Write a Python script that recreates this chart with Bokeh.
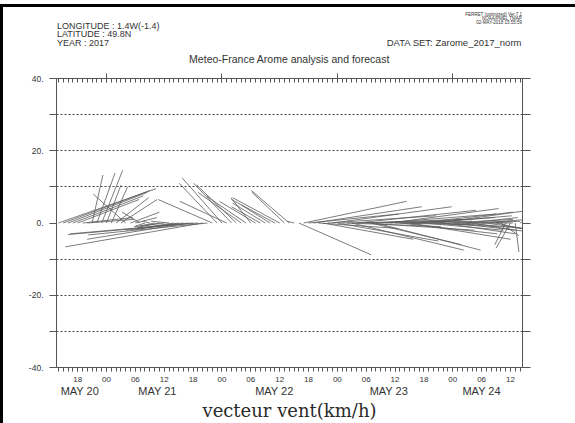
from bokeh.plotting import figure
from bokeh.layouts import column
from bokeh.models import Range1d, FixedTicker, LinearAxis, Grid, ColumnDataSource
from bokeh.core.properties import value
from bokeh.embed import file_html
from bokeh.resources import INLINE

# ---- data: hourly wind sticks (hours since 2017-05-20 00:00), u / v in km/h ----
hours = list(range(14, 111))
u_kmh = [27, 24, 22, 19.5, 17, 14, 13, 3, 5, 5.8, 4, 4.5, 9, 10, -9, 8, 6, -5,
         -3, -2, -4, -6, -8, -5, -10, -12, -16, -28, -34, -36, -38, -33,
         -15, -10.5, -11, -13, -10.5, -11, -12, -11, -5.5, -10, -8, -9, -8, -12, -13, -9, -10.5, -2,
         20, 28.5, 25, 30, 22, 25, 30, 33, 28, 30, 26, 31, 33, 28, 30, 25, 29, 32, 24, 30,
         22, 27, 25, 28, 20, 26, 22, 23, 18, 25, 20, 18, 22, 15, 17, 14, 12, 10, 13, 10,
         8, 9, 5, -3, -4, 1, 4]
v_kmh = [9.5, 9, 8.5, 7.5, 6.5, 1.5, 1.0, 13.3, 13.8, 14.6, 10.5, 10, 7, 6.5, 8, 3, 1.5, 3,
         -1, 0.5, -0.8, -1.2, -1, 0.5, -1.5, -1.8, -2, -4.5, -3, -3.2, -6.6, -3.3,
         6.5, 11, 12.5, 6, 11, 10.5, 8.5, 7.5, 7, 6, 4.5, 5.5, 5, 6.5, 7, 8.5, 9, 0.5,
         -8.8, 6, 2.5, 4.5, -1.5, -4.5, 2, 4.5, -5, 0.5, -1, -7.5, 3.5, 1, -2, -6, -7.5, 2.5, 0.5, 4,
         -0.5, -3, 1.5, -4.5, 0, 3, -2, 2, -1, 3.5, -3, 1, -2.5, 0.5, -1.5, 1.5, -2, 0, 1, -1.5,
         0.5, -2, -3.5, -6, -7, -8, 2]

x_tick_hours = list(range(18, 109, 6))
x_tick_labels = ["18", "00", "06", "12", "18", "00", "06", "12", "18",
                 "00", "06", "12", "18", "00", "06", "12"]
day_start_hours = [24, 48, 72, 96]
day_labels = ["MAY 20", "MAY 21", "MAY 22", "MAY 23", "MAY 24"]
day_label_hours = [18.45, 34.6, 58.9, 82.7, 102.0]
y_ticks = [-40, -30, -20, -10, 0, 10, 20, 30, 40]
y_tick_labels = ["-40.", "", "-20.", "", "0.", "", "20.", "", "40."]
grid_levels = [-30, -20, -10, 10, 20, 30]

header_left = ["LONGITUDE : 1.4W(-1.4)", "LATITUDE : 49.8N", "YEAR : 2017"]
dataset_text = ["DATA SET: Zarome_2017_norm"]
title_text = ["Meteo-France Arome analysis and forecast"]
ferret_lines = ["FERRET (optimized) Ver.7.1", "NOAA/PMEL TMAP", "02-MAY-2018 15:55:59"]
x_title = "vecteur vent(km/h)"

# ---- geometry ----
X0, X1 = 13.6, 110.5
FRAME_W, FRAME_H = 466, 289
px_per_hour = FRAME_W / (X1 - X0)
px_per_unit = FRAME_H / 80.0
k = px_per_unit / px_per_hour  # hours per km/h so sticks keep their true direction

FONT = "Liberation Sans"
TXT = "#333333"
AX = "#555555"
W = 572
TOP = 7          # page y where the canvases start (margin + black border)
H_HEAD = 63      # header canvas height: page y 7..70
H_MAIN = 423 - TOP - H_HEAD

# ---- header (page-pixel coordinates, y downward; frame is aligned with the main frame) ----
head = figure(width=W, height=H_HEAD, output_backend="svg", toolbar_location=None,
              x_range=Range1d(56, 522), y_range=Range1d(TOP + H_HEAD, TOP),
              x_axis_location=None, y_axis_location=None, min_border=0,
              outline_line_color=None, background_fill_color="white", border_fill_color="white")
head.grid.visible = False

def htext(xs, ys, texts, size, align, font=FONT, color=TXT):
    head.text(x=xs, y=ys, text=texts, text_font=value(font), text_font_size=value(size),
              text_color=color, text_align=align, text_baseline="middle")

htext([56.5] * 3, [25, 33.5, 42], header_left, "9px", "left")
htext([521.5], [42], dataset_text, "9.5px", "right")
htext([289], [58], title_text, "10.5px", "center")
htext([521.5] * 3, [14, 18, 22], ferret_lines, "4.5px", "right")

# ---- main plot ----
p = figure(width=W, height=H_MAIN, output_backend="svg", toolbar_location=None,
           x_range=Range1d(X0, X1), y_range=Range1d(-40, 40),
           x_axis_location=None, y_axis_location=None,
           min_border_left=53, min_border_right=53, min_border_top=78 - TOP - H_HEAD,
           min_border_bottom=H_MAIN - (367 - TOP - H_HEAD),
           background_fill_color="white", border_fill_color="white")
p.outline_line_color = AX
p.grid.visible = False

hourly = list(range(14, 111))

bottom = LinearAxis(ticker=FixedTicker(ticks=x_tick_hours, minor_ticks=hourly),
                    major_label_overrides={h: l for h, l in zip(x_tick_hours, x_tick_labels)},
                    major_tick_in=0, major_tick_out=4, minor_tick_in=0, minor_tick_out=4,
                    major_label_standoff=5,
                    major_label_text_font=FONT, major_label_text_font_size="8px",
                    major_label_text_color=TXT, axis_line_color=AX,
                    major_tick_line_color=AX, minor_tick_line_color=AX)
p.add_layout(bottom, "below")

days = LinearAxis(ticker=FixedTicker(ticks=day_label_hours, minor_ticks=[]),
                  major_label_overrides={h: l for h, l in zip(day_label_hours, day_labels)},
                  major_tick_in=0, major_tick_out=0, axis_line_color=None,
                  major_tick_line_color=None, major_label_standoff=0,
                  major_label_text_font=FONT, major_label_text_font_size="11px",
                  major_label_text_color=TXT,
                  axis_label=x_title, axis_label_text_font="DejaVu Serif",
                  axis_label_text_font_size="18px", axis_label_text_font_style="normal",
                  axis_label_text_color="#2a2a2a", axis_label_standoff=0)
p.add_layout(days, "below")

top = LinearAxis(ticker=FixedTicker(ticks=day_start_hours, minor_ticks=hourly),
                 major_label_overrides={h: "" for h in day_start_hours},
                 major_tick_in=4, major_tick_out=5, minor_tick_in=4, minor_tick_out=0,
                 major_label_text_font_size="1px", major_label_standoff=0,
                 axis_line_color=AX, major_tick_line_color=AX, minor_tick_line_color=AX)
p.add_layout(top, "above")

left = LinearAxis(ticker=FixedTicker(ticks=y_ticks, minor_ticks=[]),
                  major_label_overrides={t: l for t, l in zip(y_ticks, y_tick_labels)},
                  major_tick_in=0, major_tick_out=7, major_label_standoff=6,
                  major_label_text_font=FONT, major_label_text_font_size="8.5px",
                  major_label_text_color=TXT, axis_line_color=AX, major_tick_line_color=AX)
p.add_layout(left, "left")

right = LinearAxis(ticker=FixedTicker(ticks=y_ticks, minor_ticks=[]),
                   major_label_overrides={t: "" for t in y_ticks},
                   major_tick_in=0, major_tick_out=8, major_label_text_font_size="1px",
                   axis_line_color=AX, major_tick_line_color=AX)
p.add_layout(right, "right")

p.add_layout(Grid(dimension=1, ticker=FixedTicker(ticks=grid_levels),
                  grid_line_color="#444444", grid_line_dash="2 2", grid_line_width=1))

# sticks
x1 = [h + u * k for h, u in zip(hours, u_kmh)]
src = ColumnDataSource(dict(x0=hours, y0=[0] * len(hours), x1=x1, y1=v_kmh))
p.segment(x0="x0", y0="y0", x1="x1", y1="y1", source=src, line_color="#5a5a5a", line_width=0.8)

layout = column(head, p, spacing=0,
                styles={"border-left": "3px solid black", "border-top": "3px solid black",
                        "margin-top": "4px"})

open("out.html", "w").write(file_html(layout, INLINE))
